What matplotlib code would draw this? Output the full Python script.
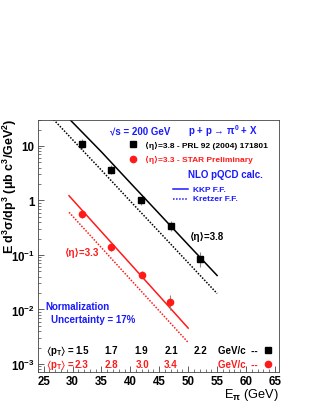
import numpy as np
import matplotlib
matplotlib.use('Agg')
import matplotlib.pyplot as plt
from matplotlib.ticker import FixedLocator, MultipleLocator, LogLocator, NullFormatter
import matplotlib.transforms as mtransforms

plt.rcParams['font.family'] = ['Liberation Sans', 'DejaVu Sans']
plt.rcParams['font.weight'] = 'bold'
plt.rcParams['mathtext.fontset'] = 'custom'
plt.rcParams['mathtext.rm'] = 'Liberation Sans:bold'
plt.rcParams['mathtext.it'] = 'Liberation Sans:bold'
plt.rcParams['mathtext.bf'] = 'Liberation Sans:bold'
plt.rcParams['mathtext.sf'] = 'Liberation Sans:bold'
plt.rcParams['mathtext.fallback'] = 'stixsans'

# data points, eta = 3.8 (PRL 92 (2004) 171801)
e38 = [31.6, 36.7, 41.9, 47.1, 52.1]
y38 = [10.8, 3.7, 1.0, 0.345, 0.085]
y38_lo = [2.0, 0.6, 0.16, 0.07, 0.025]
y38_hi = [2.4, 0.7, 0.18, 0.08, 0.03]

# data points, eta = 3.3 (STAR preliminary)
e33 = [31.6, 36.7, 42.1, 46.9]
y33 = [0.56, 0.14, 0.043, 0.0135]
y33_lo = [0.08, 0.02, 0.006, 0.0037]
y33_hi = [0.09, 0.025, 0.007, 0.005]

# NLO pQCD curves
kkp38_x = [29, 35, 40, 45, 50, 55]
kkp38_y = [35, 7.8, 2.1, 0.57, 0.154, 0.042]
kre38_x = [26, 30, 35, 40, 45, 50, 55]
kre38_y = [37, 13.1, 3.6, 0.97, 0.265, 0.072, 0.0196]
kkp33_x = [29.4, 35, 40, 45, 50]
kkp33_y = [1.22, 0.267, 0.0687, 0.0177, 0.00454]
kre33_x = [29.4, 35, 40, 45, 50]
kre33_y = [0.607, 0.136, 0.0357, 0.0094, 0.00247]

pt38 = ['1.5', '1.7', '1.9', '2.1', '2.2']
pt33 = ['2.3', '2.8', '3.0', '3.4']

ytick_vals = [1e-3, 1e-2, 1e-1, 1, 10]
ytick_lbls = ['10$^{-3}$', '10$^{-2}$', '10$^{-1}$', '1', '10']

blue = '#1a1aff'
red = '#ff1a1a'

fig = plt.figure(figsize=(3.11, 4.02), dpi=100)
ax = fig.add_axes([0.1206, 0.0721, 0.7765, 0.6269])
ax.set_yscale('log')
ax.set_xlim(23.95, 65.7)
ax.set_ylim(7.1e-4, 30)

# curves
ax.plot(kkp38_x, kkp38_y, color='black', lw=1.1)
ax.plot(kre38_x, kre38_y, color='black', lw=1.1, ls=(0, (1, 1)))
ax.plot(kkp33_x, kkp33_y, color=red, lw=1.1)
ax.plot(kre33_x, kre33_y, color=red, lw=1.1, ls=(0, (1, 1)))

# points
ax.errorbar(e38, y38, yerr=[y38_lo, y38_hi], fmt='s', color='black', ms=4,
            ecolor='#888888', elinewidth=0.8, capsize=0)
ax.errorbar(e33, y33, yerr=[y33_lo, y33_hi], fmt='o', color=red, ms=4.5,
            ecolor='#888888', elinewidth=0.8, capsize=0)

# axes style
for s in ax.spines.values():
    s.set_linewidth(0.6)
    s.set_color('#444444')
ax.xaxis.set_major_locator(MultipleLocator(5))
ax.xaxis.set_minor_locator(MultipleLocator(1))
ax.yaxis.set_major_locator(FixedLocator(ytick_vals))
ax.set_yticklabels(ytick_lbls)
ax.yaxis.set_minor_locator(LogLocator(base=10, subs=np.arange(2, 10)))
ax.yaxis.set_minor_formatter(NullFormatter())
ax.tick_params(which='both', direction='in', top=False, right=False, colors='#444444',
               labelcolor='black', labelsize=8.3)
ax.tick_params(which='major', length=4, width=0.6)
ax.tick_params(which='minor', length=2, width=0.5)
ax.tick_params(axis='y', pad=2)
ax.tick_params(axis='x', pad=2.5)

ax.set_xlabel(r'E$_{\pi}$ (GeV)', fontsize=9.2, loc='right', labelpad=-1)
fig.text(10 / 311, 1 - 186 / 402, r'E d$^{3}\sigma$/dp$^{3}$ ($\mu$b c$^{3}$/GeV$^{2}$)',
         fontsize=9, rotation=90, ha='center', va='center')

T = ax.transAxes
tb = mtransforms.blended_transform_factory(ax.transData, ax.transAxes)

ax.text(0.30, 0.960, '√s = 200 GeV', transform=T, color=blue, fontsize=7, va='center')
ax.text(0.623, 0.960, r'p + p → $\pi^{0}$ + X', transform=T, color=blue, fontsize=7, va='center')

ax.plot([0.395], [0.905], 's', color='black', ms=4, transform=T)
ax.text(0.445, 0.902, '⟨η⟩=3.8 - PRL 92 (2004) 171801', transform=T,
        fontsize=6, va='center')
ax.plot([0.395], [0.845], 'o', color=red, ms=4.5, transform=T)
ax.text(0.445, 0.845, '⟨η⟩=3.3 - STAR Preliminary', transform=T,
        color=red, fontsize=6, va='center')
ax.text(0.623, 0.786, 'NLO pQCD calc.', transform=T, color=blue, fontsize=7, va='center')
ax.plot([0.561, 0.623], [0.726, 0.726], color=blue, lw=1.1, transform=T)
ax.text(0.644, 0.726, 'KKP F.F.', transform=T, color=blue, fontsize=6, va='center')
ax.plot([0.561, 0.623], [0.687, 0.687], color=blue, lw=1.1, ls=(0, (1, 1)), transform=T)
ax.text(0.644, 0.687, 'Kretzer F.F.', transform=T, color=blue, fontsize=6, va='center')

ax.text(0.631, 0.540, '⟨η⟩=3.8', transform=T, fontsize=7, va='center')
ax.text(0.114, 0.476, '⟨η⟩=3.3', transform=T, color=red, fontsize=7, va='center')

ax.text(0.031, 0.263, 'Normalization', transform=T, color=blue, fontsize=7, va='center')
ax.text(0.056, 0.210, 'Uncertainty = 17%', transform=T, color=blue, fontsize=7, va='center')

# <pT> rows
ax.text(0.035, 0.087, r'$\langle$p$_{T}\rangle$ =', transform=T, fontsize=7, va='center')
ax.text(0.035, 0.032, r'$\langle$p$_{T}\rangle$ =', transform=T, color=red, fontsize=7, va='center')
for xv, lbl in zip(e38, pt38):
    ax.text(xv, 0.087, lbl, transform=tb, fontsize=7, va='center', ha='center')
for xv, lbl in zip(e33, pt33):
    ax.text(xv, 0.032, lbl, transform=tb, color=red, fontsize=7, va='center', ha='center')
ax.text(0.747, 0.087, 'GeV/c  --', transform=T, fontsize=7, va='center')
ax.text(0.747, 0.032, 'GeV/c  --', transform=T, color=red, fontsize=7, va='center')
ax.plot([0.954], [0.087], 's', color='black', ms=4, transform=T)
ax.plot([0.954], [0.032], 'o', color=red, ms=4.5, transform=T)

fig.savefig('out.png', dpi=100)
